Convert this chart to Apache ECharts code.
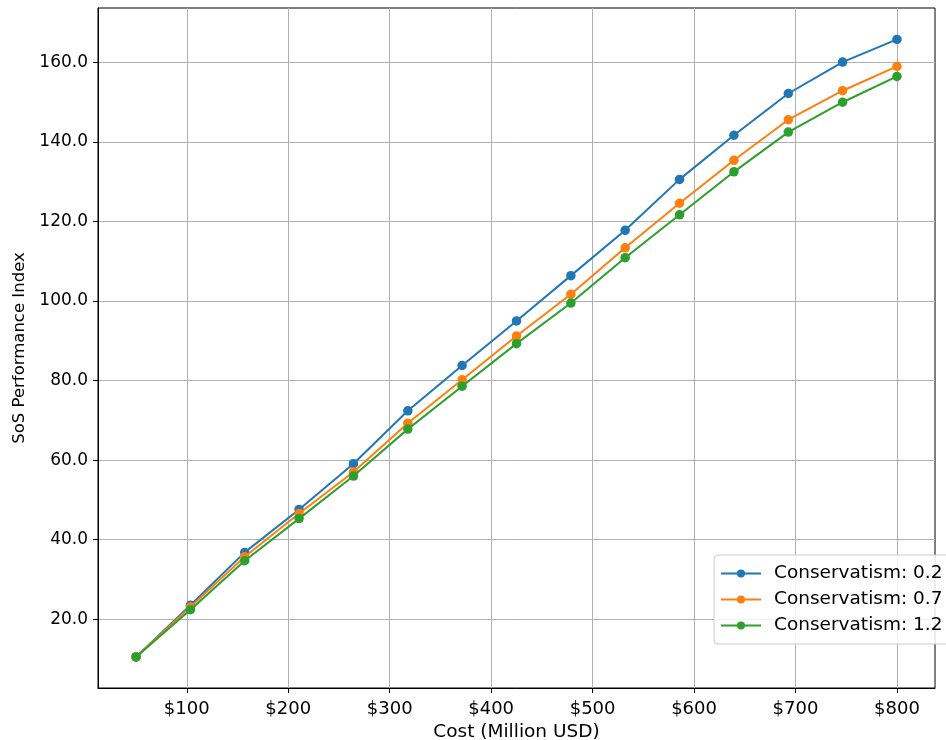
<!DOCTYPE html>
<html><head><meta charset="utf-8">
<script src="https://cdn.jsdelivr.net/npm/echarts@6/dist/echarts.min.js"></script>
<style>html,body{margin:0;padding:0;background:#fff}#c{width:946px;height:740px}</style>
</head><body><div id="c"></div>
<script>
const costs = [50, 103.6, 157.1, 210.7, 264.3, 317.9, 371.4, 425, 478.6, 532.1, 585.7, 639.3, 692.9, 746.4, 800];
const seriesNames = ['Conservatism: 0.2', 'Conservatism: 0.7', 'Conservatism: 1.2'];
const cons02 = [10.5, 23.5, 36.8, 47.6, 59.1, 72.4, 83.8, 95.0, 106.4, 117.8, 130.6, 141.7, 152.2, 160.1, 165.8];
const cons07 = [10.5, 23.1, 35.7, 46.6, 57.0, 69.3, 80.2, 91.2, 101.7, 113.4, 124.6, 135.4, 145.6, 152.9, 159.0];
const cons12 = [10.5, 22.4, 34.7, 45.3, 56.0, 67.8, 78.6, 89.3, 99.5, 110.9, 121.7, 132.5, 142.5, 150.0, 156.5];
const xTicks = [100, 200, 300, 400, 500, 600, 700, 800];
const yTicks = [20, 40, 60, 80, 100, 120, 140, 160];
const colors = ['#1f77b4', '#ff7f0e', '#2ca02c'];
const allSeries = [cons02, cons07, cons12];

const chart = echarts.init(document.getElementById('c'), null, {renderer: 'canvas'});
const font = 'DejaVu Sans';
chart.setOption({
  animation: false,
  backgroundColor: '#fff',
  grid: {left: 98, right: 11, top: 8, bottom: 52, show: true, borderColor: '#000', borderWidth: 1, containLabel: false, outerBoundsMode: 'none'},
  xAxis: {
    type: 'value', min: 12.5, max: 837.5,
    name: 'Cost (Million USD)', nameLocation: 'middle', nameGap: 34,
    nameTextStyle: {fontFamily: font, fontSize: 18.5, color: '#000'},
    axisLine: {show: true, lineStyle: {color: '#000', width: 1}},
    axisTick: {show: true, customValues: xTicks, length: 5, lineStyle: {color: '#000'}},
    axisLabel: {customValues: xTicks, formatter: v => '$' + Math.round(v), fontFamily: font, fontSize: 18, color: '#000', margin: 12},
    splitLine: {show: true, lineStyle: {color: '#b0b0b0', width: 1}}
  },
  yAxis: {
    type: 'value', min: 2.7, max: 173.7,
    name: 'SoS Performance Index', nameLocation: 'middle', nameGap: 68,
    nameTextStyle: {fontFamily: font, fontSize: 16.5, color: '#000'},
    axisLine: {show: true, lineStyle: {color: '#000', width: 1}},
    axisTick: {show: true, customValues: yTicks, length: 5, lineStyle: {color: '#000'}},
    axisLabel: {customValues: yTicks, formatter: v => v.toFixed(1), fontFamily: font, fontSize: 17, color: '#000', margin: 10},
    splitLine: {show: true, lineStyle: {color: '#b0b0b0', width: 1}}
  },
  legend: {
    left: 714, top: 555, orient: 'vertical',
    backgroundColor: 'rgba(255,255,255,0.85)', borderColor: '#cccccc', borderWidth: 1, borderRadius: 4,
    padding: [9, 8, 9, 6], itemGap: 7, itemWidth: 40, itemHeight: 10,
    textStyle: {fontFamily: font, fontSize: 18.5, color: '#000', padding: [0, 0, 0, 8]},
    data: seriesNames
  },
  series: allSeries.map((vals, i) => ({
    name: seriesNames[i], type: 'line',
    data: costs.map((c, j) => [c, vals[j]]),
    symbol: 'circle', symbolSize: 9.5,
    itemStyle: {color: colors[i]},
    lineStyle: {color: colors[i], width: 2},
    z: 3 + i
  }))
});
</script></body></html>
